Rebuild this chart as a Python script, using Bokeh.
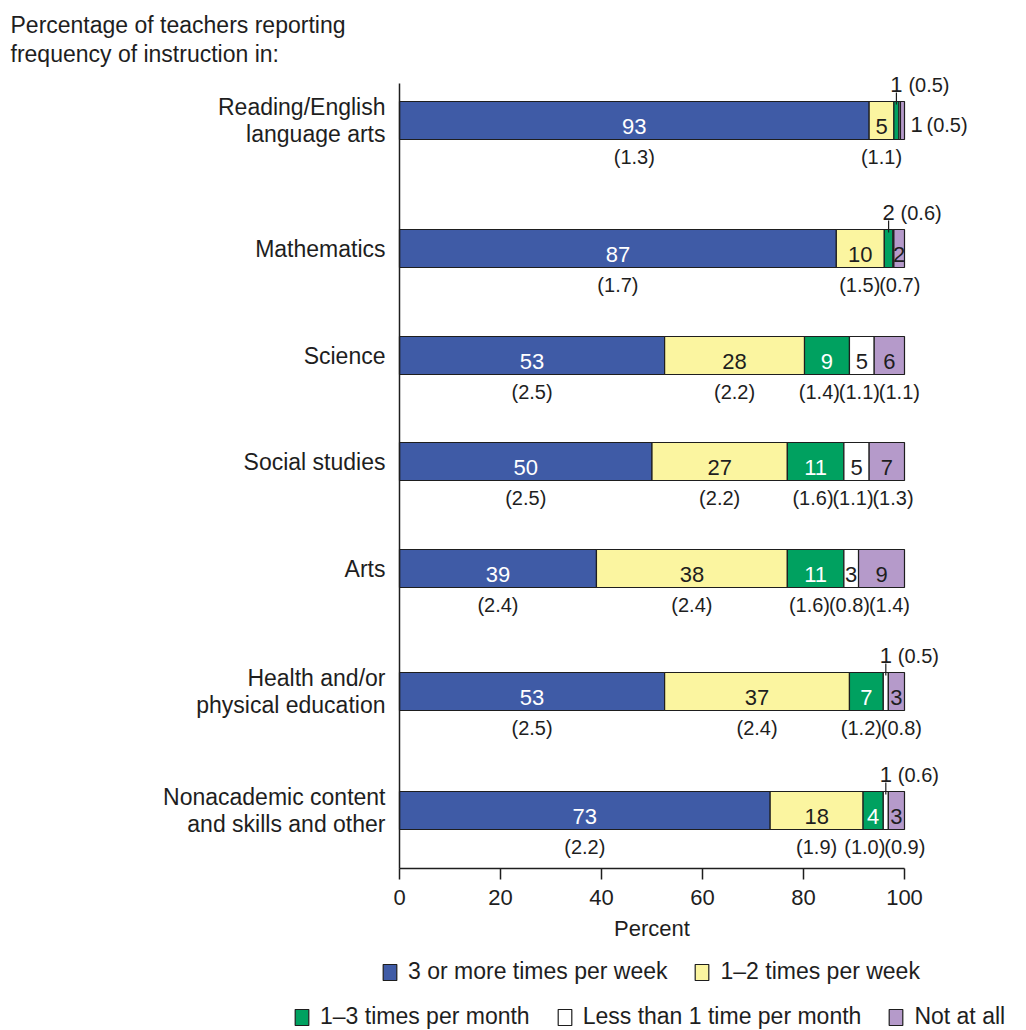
from bokeh.plotting import figure
from bokeh.models import (ColumnDataSource, Range1d, FixedTicker, LabelSet, Label,
                          Legend, LegendItem)
from bokeh.core.properties import value, field
from bokeh.embed import file_html
from bokeh.resources import INLINE

# ---------------- data ----------------
categories = [
    "Reading/English\nlanguage arts",
    "Mathematics",
    "Science",
    "Social studies",
    "Arts",
    "Health and/or\nphysical education",
    "Nonacademic content\nand skills and other",
]
series_names = [
    "3 or more times per week",
    "1\u20132 times per week",
    "1\u20133 times per month",
    "Less than 1 time per month",
    "Not at all",
]
pct_3plus_week = [93.0, 86.5, 52.5, 50.0, 39.0, 52.5, 73.4]
pct_1to2_week = [4.9, 9.5, 27.7, 26.8, 37.8, 36.6, 18.4]
pct_1to3_month = [1.0, 1.7, 8.9, 11.2, 11.2, 6.7, 4.0]
pct_lt1_month = [0.3, 0.2, 4.9, 5.0, 2.9, 1.0, 1.0]
pct_not_at_all = [0.8, 2.1, 6.0, 7.0, 9.1, 3.2, 3.2]

# printed (rounded) estimates and standard errors; "" = not printed
lbl_3plus_week = ["93", "87", "53", "50", "39", "53", "73"]
lbl_1to2_week = ["5", "10", "28", "27", "38", "37", "18"]
lbl_1to3_month = ["1", "2", "9", "11", "11", "7", "4"]
lbl_lt1_month = ["", "", "5", "5", "3", "1", "1"]
lbl_not_at_all = ["1", "2", "6", "7", "9", "3", "3"]

se_3plus_week = ["1.3", "1.7", "2.5", "2.5", "2.4", "2.5", "2.2"]
se_1to2_week = ["1.1", "1.5", "2.2", "2.2", "2.4", "2.4", "1.9"]
se_1to3_month = ["0.5", "0.6", "1.4", "1.6", "1.6", "1.2", "1.0"]
se_lt1_month = ["", "", "1.1", "1.1", "0.8", "0.5", "0.6"]
se_not_at_all = ["0.5", "0.7", "1.1", "1.3", "1.4", "0.8", "0.9"]

x_ticks = [0, 20, 40, 60, 80, 100]
title_lines = ["Percentage of teachers reporting", "frequency of instruction in:"]

# ---------------- style / layout ----------------
FONT = "Liberation Sans"
INK = "#1e1e1e"
colors = ["#3F5BA6", "#FBF5A0", "#00A160", "#FFFFFF", "#B59ACA"]
text_colors = ["#FFFFFF", INK, "#FFFFFF", INK, INK]

W, H = 1026, 1030
X0 = 399.0          # pixel of 0 %
PX = 5.05           # pixels per percentage point
AXIS_TOP, AXIS_Y = 83, 868   # y extent of the value axis area (px from top)
BAR_H = 38
FIRST_ROW = 120
ROW_GAPS = [128, 107, 106, 107, 123, 119]
CAT_LINE = 27
TITLE_Y0, TITLE_LINE = 24, 29

row_y = [FIRST_ROW]
for g in ROW_GAPS:
    row_y.append(row_y[-1] + g)

values = [pct_3plus_week, pct_1to2_week, pct_1to3_month, pct_lt1_month, pct_not_at_all]
labels = [lbl_3plus_week, lbl_1to2_week, lbl_1to3_month, lbl_lt1_month, lbl_not_at_all]
ses = [se_3plus_week, se_1to2_week, se_1to3_month, se_lt1_month, se_not_at_all]
keys = ["s0", "s1", "s2", "s3", "s4"]

src = ColumnDataSource(dict(y=row_y, **{k: v for k, v in zip(keys, values)}))

p = figure(width=W, height=H, output_backend="svg", toolbar_location=None,
           x_range=Range1d(-X0 / PX, (W - X0) / PX), y_range=Range1d(H, 0),
           min_border=0)
p.outline_line_color = None
p.xgrid.visible = False
p.ygrid.visible = False
p.background_fill_color = "white"

rends = p.hbar_stack(keys, y="y", height=BAR_H, color=colors, line_color=INK,
                     line_width=1.2, source=src)

# ---- axes ----
xa = p.xaxis[0]
xa.fixed_location = AXIS_Y
xa.bounds = (0, 100)
xa.ticker = FixedTicker(ticks=x_ticks)
xa.axis_label = "Percent"
xa.axis_label_text_font = FONT
xa.axis_label_text_font_size = "22px"
xa.axis_label_text_font_style = "normal"
xa.axis_label_text_color = INK
xa.axis_label_standoff = 8
xa.major_label_text_font = FONT
xa.major_label_text_font_size = "22px"
xa.major_label_text_color = INK
xa.major_label_standoff = 10
xa.major_tick_in = 0
xa.major_tick_out = 11
xa.major_tick_line_color = INK
xa.major_tick_line_width = 1.5
xa.minor_tick_line_color = None
xa.axis_line_color = INK
xa.axis_line_width = 1.5

ya = p.yaxis[0]
ya.fixed_location = 0
ya.bounds = (AXIS_TOP, AXIS_Y)
ya.ticker = FixedTicker(ticks=[])
ya.major_tick_line_color = None
ya.minor_tick_line_color = None
ya.major_label_text_font_size = "0px"
ya.axis_line_color = INK
ya.axis_line_width = 1.5

# ---- value / SE labels ----
def spread(cs, gap):
    cs = list(cs)
    for _ in range(200):
        moved = False
        for k in range(len(cs) - 1):
            d = cs[k + 1] - cs[k]
            if d < gap - 1e-6:
                s = (gap - d) / 2.0
                cs[k] -= s
                cs[k + 1] += s
                moved = True
        if not moved:
            break
    return cs

SE_GAP = 40 / PX
inside = dict(x=[], y=[], text=[], color=[])
below = dict(x=[], y=[], text=[])
above_val = dict(x=[], y=[], text=[])
above_se = dict(x=[], y=[], text=[])
right_val = dict(x=[], y=[], text=[])
right_se = dict(x=[], y=[], text=[])
tick_seg = dict(x0=[], y0=[], x1=[], y1=[])

for i, yc in enumerate(row_y):
    left = 0.0
    se_c, se_t = [], []
    top = yc - BAR_H / 2
    for j in range(5):
        v = values[j][i]
        c = left + v / 2.0
        r = left + v
        lab, se = labels[j][i], ses[j][i]
        if lab:
            if v < 2.0:
                if j == 4:
                    right_val["x"].append(r); right_val["y"].append(yc + 11); right_val["text"].append(lab)
                    right_se["x"].append(r); right_se["y"].append(yc + 11); right_se["text"].append("(" + se + ")")
                else:
                    above_val["x"].append(c); above_val["y"].append(top - 10); above_val["text"].append(lab)
                    above_se["x"].append(c); above_se["y"].append(top - 10); above_se["text"].append("(" + se + ")")
                    tick_seg["x0"].append(c); tick_seg["x1"].append(c)
                    tick_seg["y0"].append(top - 9); tick_seg["y1"].append(top + 3)
            else:
                inside["x"].append(c); inside["y"].append(yc + 13)
                inside["text"].append(lab); inside["color"].append(text_colors[j])
                se_c.append(c); se_t.append("(" + se + ")")
        left = r
    for c, t in zip(spread(se_c, SE_GAP), se_t):
        below["x"].append(c); below["y"].append(yc + 43); below["text"].append(t)

p.segment(x0="x0", y0="y0", x1="x1", y1="y1", source=ColumnDataSource(tick_seg),
          line_color=INK, line_width=1.2)

def lset(d, size, align, xoff=0, color=INK, baseline="alphabetic"):
    return LabelSet(x="x", y="y", text="text", source=ColumnDataSource(d),
                    text_align=align, text_baseline=baseline, x_offset=xoff,
                    text_font=value(FONT), text_font_size=value(size),
                    text_color=color)

p.add_layout(lset(inside, "22px", "center", color=field("color")))
p.add_layout(lset(below, "20px", "center"))
p.add_layout(lset(above_val, "22px", "center"))
p.add_layout(lset(above_se, "20px", "left", xoff=12))
p.add_layout(lset(right_val, "22px", "left", xoff=6))
p.add_layout(lset(right_se, "20px", "left", xoff=22))

# category labels: each line right-aligned, block centred on the bar
cat = dict(x=[], y=[], text=[])
for name, yc in zip(categories, row_y):
    parts = name.split("\n")
    n = len(parts)
    for k, part in enumerate(parts):
        cat["x"].append(0)
        cat["y"].append(yc + (k - (n - 1) / 2.0) * CAT_LINE)
        cat["text"].append(part)
p.add_layout(lset(cat, "23px", "right", xoff=-14, baseline="middle"))

# title (two left-aligned lines at the top left)
for k, line in enumerate(title_lines):
    p.add_layout(Label(x=0, y=TITLE_Y0 + k * TITLE_LINE, x_offset=-X0 + 10, text=line,
                       text_align="left", text_baseline="middle", text_font=FONT,
                       text_font_size="23px", text_color=INK))

# ---- legends (two centred rows below the axis) ----
def make_legend(idx, loc):
    lg = Legend(items=[LegendItem(label=series_names[k], renderers=[rends[k]]) for k in idx],
                location=loc, orientation="horizontal")
    lg.border_line_color = None
    lg.background_fill_alpha = 0
    lg.padding = 0
    lg.margin = 0
    lg.spacing = 26
    lg.label_standoff = 10
    lg.glyph_width = 17
    lg.glyph_height = 20
    lg.label_text_font = FONT
    lg.label_text_font_size = "23px"
    lg.label_text_color = INK
    return lg

p.add_layout(make_legend([0, 1], (381, 45)))
p.add_layout(make_legend([2, 3, 4], (293, 0)))

open("out.html", "w").write(file_html(p, INLINE))
